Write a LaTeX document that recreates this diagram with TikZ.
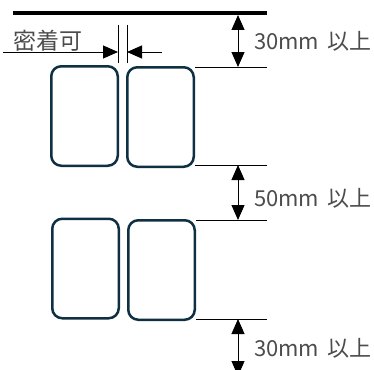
\documentclass[tikz,border=0pt]{standalone}
\usepackage{fontspec}
\setmainfont{Noto Sans CJK JP}[WordSpace=1.7]
\usetikzlibrary{arrows.meta,positioning}
\definecolor{labelnavy}{HTML}{0F3042}
\tikzset{
  label box/.style={draw=labelnavy,line width=2.5pt,rounded corners=10pt,
    minimum width=66.5pt,minimum height=99.5pt,inner sep=0pt},
  dim line/.style={line width=1pt},
  dim arrow/.style={line width=1pt,{Triangle[length=15pt,width=13pt]}-{Triangle[length=15pt,width=13pt]}},
  gap arrow/.style={line width=1pt,-{Triangle[length=15pt,width=13pt]}},
  dim text/.style={anchor=west,inner sep=0pt,font=\fontsize{22}{22}\selectfont,text=black!70}
}
\begin{document}
\begin{tikzpicture}[x=1pt,y=-1pt]
   \useasboundingbox (0,0) rectangle (374,369);
   % edge of the sheet
   \draw[line width=4pt] (13,13) coordinate (e_l) -- (267,13) coordinate (e_r);
   % labels
   \node[label box] (l_1) at (84.5,116) {};
   \node[label box] (l_2) at (160.5,117) {};
   \node[label box] (l_3) at (85.5,268.5) {};
   \node[label box] (l_4) at (161.5,270) {};
   % extension lines
   \coordinate (t_1) at (238,15);
   \coordinate (t_2) at (238,67);
   \coordinate (t_3) at (238,165);
   \coordinate (t_4) at (238,220);
   \coordinate (t_5) at (238,319);
   \coordinate (t_6) at (238,376);
   \draw[dim line] (195,67) -- (267,67);
   \draw[dim line] (195,165) -- (267,165);
   \draw[dim line] (196,220) -- (267,220);
   \draw[dim line] (196,319) -- (267,319);
   \path[dim arrow]
    (t_1) edge (t_2)
    (t_3) edge (t_4)
    (t_5) edge (t_6);
   \node[dim text] (d_1) at (254,41) {30mm 以上};
   \node[dim text] (d_2) at (254,198) {50mm 以上};
   \node[dim text] (d_3) at (254,348) {30mm 以上};
   % gap between labels
   \coordinate (g_l) at (118,52);
   \coordinate (g_r) at (127,52);
   \draw[dim line] (118,25) -- (118,63);
   \draw[dim line] (127,25) -- (127,63);
   \draw[gap arrow] (3,52) -- (g_l);
   \draw[gap arrow] (162,52) -- (g_r);
   \node[anchor=base west,inner sep=0pt,font=\fontsize{23}{23}\selectfont,text=black!70] (gap) at (13,49) {密着可};
\end{tikzpicture}
\end{document}
